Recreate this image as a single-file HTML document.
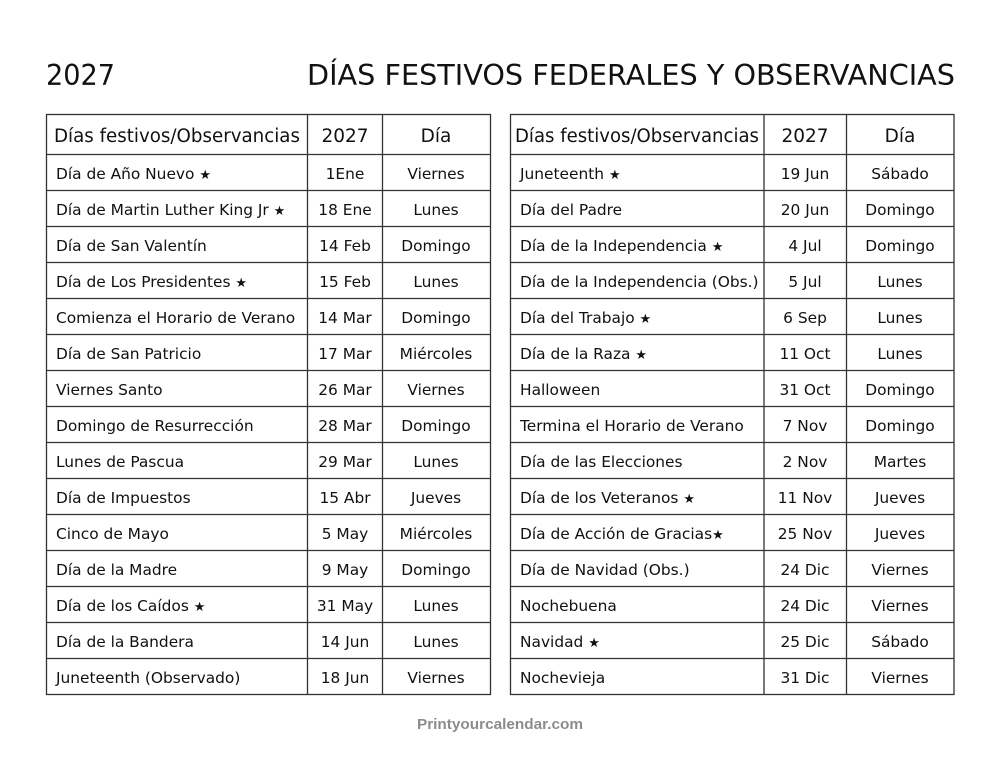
<!DOCTYPE html>
<html><head><meta charset="utf-8"><style>
html,body{margin:0;padding:0;background:#fff;}
svg{display:block;}
text{font-family:"DejaVu Sans","Liberation Sans",sans-serif;fill:#111;}
.b{font-size:15.4px;}
.h{font-size:18.5px;}
.c{text-anchor:middle;}
.s{font-size:13px;}
</style></head><body>
<svg width="1000" height="773" viewBox="0 0 1000 773" xmlns="http://www.w3.org/2000/svg">
<rect width="1000" height="773" fill="#fff"/>
<text x="46" y="85" style="font-size:28.4px" textLength="69" lengthAdjust="spacingAndGlyphs">2027</text>
<text x="307" y="85" style="font-size:28.4px" textLength="648" lengthAdjust="spacingAndGlyphs">DÍAS FESTIVOS FEDERALES Y OBSERVANCIAS</text>

<g stroke="#333" stroke-width="1.3" fill="none">
<rect x="46.5" y="114.5" width="444" height="580"/>
<line x1="307.5" y1="114.5" x2="307.5" y2="694.5"/>
<line x1="382.5" y1="114.5" x2="382.5" y2="694.5"/>
<rect x="510.5" y="114.5" width="443.5" height="580"/>
<line x1="764" y1="114.5" x2="764" y2="694.5"/>
<line x1="846.5" y1="114.5" x2="846.5" y2="694.5"/>
<path d="M46.5 154.5H490.5M46.5 190.5H490.5M46.5 226.5H490.5M46.5 262.5H490.5M46.5 298.5H490.5M46.5 334.5H490.5M46.5 370.5H490.5M46.5 406.5H490.5M46.5 442.5H490.5M46.5 478.5H490.5M46.5 514.5H490.5M46.5 550.5H490.5M46.5 586.5H490.5M46.5 622.5H490.5M46.5 658.5H490.5"/>
<path d="M510.5 154.5H954M510.5 190.5H954M510.5 226.5H954M510.5 262.5H954M510.5 298.5H954M510.5 334.5H954M510.5 370.5H954M510.5 406.5H954M510.5 442.5H954M510.5 478.5H954M510.5 514.5H954M510.5 550.5H954M510.5 586.5H954M510.5 622.5H954M510.5 658.5H954"/>
</g>

<!-- headers -->
<text class="h" x="54" y="142" textLength="246" lengthAdjust="spacingAndGlyphs">Días festivos/Observancias</text>
<text class="h c" x="345" y="142">2027</text>
<text class="h c" x="436" y="142">Día</text>
<text class="h" x="515" y="142" textLength="244" lengthAdjust="spacingAndGlyphs">Días festivos/Observancias</text>
<text class="h c" x="805" y="142">2027</text>
<text class="h c" x="900" y="142">Día</text>

<!-- left table -->
<g class="b">
<text class="b" x="56" y="179">Día de Año Nuevo <tspan class="s">★</tspan></text><text class="b c" x="345" y="179">1Ene</text><text class="b c" x="436" y="179">Viernes</text>
<text class="b" x="56" y="215">Día de Martin Luther King Jr <tspan class="s">★</tspan></text><text class="b c" x="345" y="215">18 Ene</text><text class="b c" x="436" y="215">Lunes</text>
<text class="b" x="56" y="251">Día de San Valentín</text><text class="b c" x="345" y="251">14 Feb</text><text class="b c" x="436" y="251">Domingo</text>
<text class="b" x="56" y="287">Día de Los Presidentes <tspan class="s">★</tspan></text><text class="b c" x="345" y="287">15 Feb</text><text class="b c" x="436" y="287">Lunes</text>
<text class="b" x="56" y="323">Comienza el Horario de Verano</text><text class="b c" x="345" y="323">14 Mar</text><text class="b c" x="436" y="323">Domingo</text>
<text class="b" x="56" y="359">Día de San Patricio</text><text class="b c" x="345" y="359">17 Mar</text><text class="b c" x="436" y="359">Miércoles</text>
<text class="b" x="56" y="395">Viernes Santo</text><text class="b c" x="345" y="395">26 Mar</text><text class="b c" x="436" y="395">Viernes</text>
<text class="b" x="56" y="431">Domingo de Resurrección</text><text class="b c" x="345" y="431">28 Mar</text><text class="b c" x="436" y="431">Domingo</text>
<text class="b" x="56" y="467">Lunes de Pascua</text><text class="b c" x="345" y="467">29 Mar</text><text class="b c" x="436" y="467">Lunes</text>
<text class="b" x="56" y="503">Día de Impuestos</text><text class="b c" x="345" y="503">15 Abr</text><text class="b c" x="436" y="503">Jueves</text>
<text class="b" x="56" y="539">Cinco de Mayo</text><text class="b c" x="345" y="539">5 May</text><text class="b c" x="436" y="539">Miércoles</text>
<text class="b" x="56" y="575">Día de la Madre</text><text class="b c" x="345" y="575">9 May</text><text class="b c" x="436" y="575">Domingo</text>
<text class="b" x="56" y="611">Día de los Caídos <tspan class="s">★</tspan></text><text class="b c" x="345" y="611">31 May</text><text class="b c" x="436" y="611">Lunes</text>
<text class="b" x="56" y="647">Día de la Bandera</text><text class="b c" x="345" y="647">14 Jun</text><text class="b c" x="436" y="647">Lunes</text>
<text class="b" x="56" y="683">Juneteenth (Observado)</text><text class="b c" x="345" y="683">18 Jun</text><text class="b c" x="436" y="683">Viernes</text>
</g>

<!-- right table -->
<g>
<text class="b" x="520" y="179">Juneteenth <tspan class="s">★</tspan></text><text class="b c" x="805" y="179">19 Jun</text><text class="b c" x="900" y="179">Sábado</text>
<text class="b" x="520" y="215">Día del Padre</text><text class="b c" x="805" y="215">20 Jun</text><text class="b c" x="900" y="215">Domingo</text>
<text class="b" x="520" y="251">Día de la Independencia <tspan class="s">★</tspan></text><text class="b c" x="805" y="251">4 Jul</text><text class="b c" x="900" y="251">Domingo</text>
<text class="b" x="520" y="287">Día de la Independencia (Obs.)</text><text class="b c" x="805" y="287">5 Jul</text><text class="b c" x="900" y="287">Lunes</text>
<text class="b" x="520" y="323">Día del Trabajo <tspan class="s">★</tspan></text><text class="b c" x="805" y="323">6 Sep</text><text class="b c" x="900" y="323">Lunes</text>
<text class="b" x="520" y="359">Día de la Raza <tspan class="s">★</tspan></text><text class="b c" x="805" y="359">11 Oct</text><text class="b c" x="900" y="359">Lunes</text>
<text class="b" x="520" y="395">Halloween</text><text class="b c" x="805" y="395">31 Oct</text><text class="b c" x="900" y="395">Domingo</text>
<text class="b" x="520" y="431">Termina el Horario de Verano</text><text class="b c" x="805" y="431">7 Nov</text><text class="b c" x="900" y="431">Domingo</text>
<text class="b" x="520" y="467">Día de las Elecciones</text><text class="b c" x="805" y="467">2 Nov</text><text class="b c" x="900" y="467">Martes</text>
<text class="b" x="520" y="503">Día de los Veteranos <tspan class="s">★</tspan></text><text class="b c" x="805" y="503">11 Nov</text><text class="b c" x="900" y="503">Jueves</text>
<text class="b" x="520" y="539">Día de Acción de Gracias<tspan class="s">★</tspan></text><text class="b c" x="805" y="539">25 Nov</text><text class="b c" x="900" y="539">Jueves</text>
<text class="b" x="520" y="575">Día de Navidad (Obs.)</text><text class="b c" x="805" y="575">24 Dic</text><text class="b c" x="900" y="575">Viernes</text>
<text class="b" x="520" y="611">Nochebuena</text><text class="b c" x="805" y="611">24 Dic</text><text class="b c" x="900" y="611">Viernes</text>
<text class="b" x="520" y="647">Navidad <tspan class="s">★</tspan></text><text class="b c" x="805" y="647">25 Dic</text><text class="b c" x="900" y="647">Sábado</text>
<text class="b" x="520" y="683">Nochevieja</text><text class="b c" x="805" y="683">31 Dic</text><text class="b c" x="900" y="683">Viernes</text>
</g>

<text x="500" y="729" text-anchor="middle" style="font-family:'Liberation Sans',sans-serif;font-weight:bold;font-size:15.2px;fill:#8c8c8c" textLength="166" lengthAdjust="spacingAndGlyphs">Printyourcalendar.com</text>
</svg>
</body></html>
